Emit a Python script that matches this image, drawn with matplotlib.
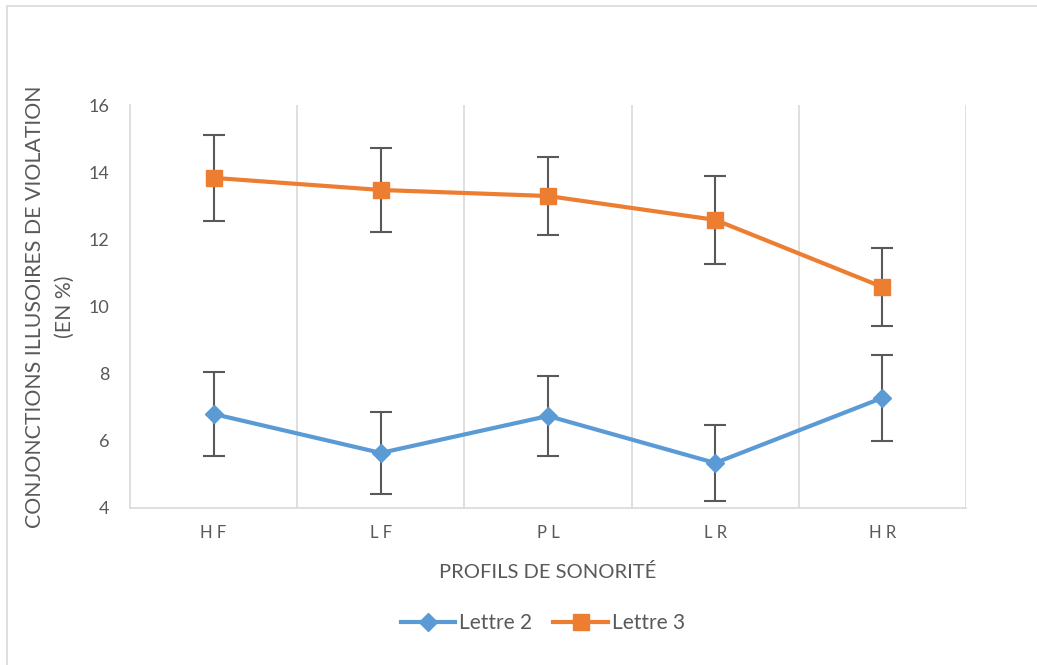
import numpy as np
import matplotlib.pyplot as plt
from matplotlib.patches import Rectangle
from matplotlib.lines import Line2D

plt.rcParams['font.family'] = ['Lato', 'DejaVu Sans']

categories = ["H F", "L F", "P L", "L R", "H R"]
lettre2 = [6.80, 5.64, 6.74, 5.34, 7.28]
lettre2_err = [1.25, 1.21, 1.20, 1.13, 1.28]
lettre3 = [13.83, 13.47, 13.29, 12.58, 10.58]
lettre3_err = [1.28, 1.25, 1.16, 1.31, 1.16]

blue = "#5b9bd5"
orange = "#ed7d31"
grey_txt = "#595959"
grid_col = "#d9d9d9"

fig = plt.figure(figsize=(10.37, 6.65), dpi=100)
fig.patches.append(Rectangle((7 / 1037, -0.1), 1.1, 1.1 - 6 / 665,
                             transform=fig.transFigure, fill=False,
                             edgecolor=grid_col, lw=1.2))
ax = fig.add_axes([130 / 1037, 1 - 508 / 665, 836 / 1037, 403 / 665])

x = np.arange(len(categories))
ax.errorbar(x, lettre2, yerr=lettre2_err, color=blue, lw=3, marker='D', ms=9,
            ecolor=grey_txt, elinewidth=1.5, capsize=8, capthick=1.5, zorder=3)
ax.errorbar(x, lettre3, yerr=lettre3_err, color=orange, lw=3, marker='s', ms=12,
            ecolor=grey_txt, elinewidth=1.5, capsize=8, capthick=1.5, zorder=3)

ax.set_xlim(-0.5, len(categories) - 0.5)
ax.set_ylim(4, 16)
ax.set_yticks(np.arange(4, 17, 2))
ax.set_xticks(x)
ax.set_xticklabels(categories)
for b in np.arange(0.5, len(categories), 1):
    ax.axvline(b, color=grid_col, lw=1.2, zorder=1)

for s in ["top", "right"]:
    ax.spines[s].set_visible(False)
for s in ["left", "bottom"]:
    ax.spines[s].set_color(grid_col)
    ax.spines[s].set_linewidth(1.2)
ax.tick_params(length=0, colors=grey_txt, labelsize=13)
ax.tick_params(axis='x', pad=12, labelsize=12)
ax.tick_params(axis='y', pad=15)

ax.set_xlabel("PROFILS DE SONORITÉ", color=grey_txt, fontsize=14.5, labelpad=16)
ax.set_ylabel("CONJONCTIONS ILLUSOIRES DE VIOLATION\n(EN %)", color=grey_txt,
              fontsize=15.3, labelpad=10, linespacing=1.6)

handles = [Line2D([], [], color=blue, lw=3, marker='D', ms=9),
           Line2D([], [], color=orange, lw=3, marker='s', ms=12)]
leg = fig.legend(handles, ["Lettre 2", "Lettre 3"], loc='center',
                 bbox_to_anchor=(543 / 1037, 1 - 623 / 665), ncol=2,
                 frameon=False, fontsize=15, handlelength=2.6, columnspacing=1.0,
                 handletextpad=0.2)
for t in leg.get_texts():
    t.set_color(grey_txt)

fig.savefig("out.png", dpi=100)
